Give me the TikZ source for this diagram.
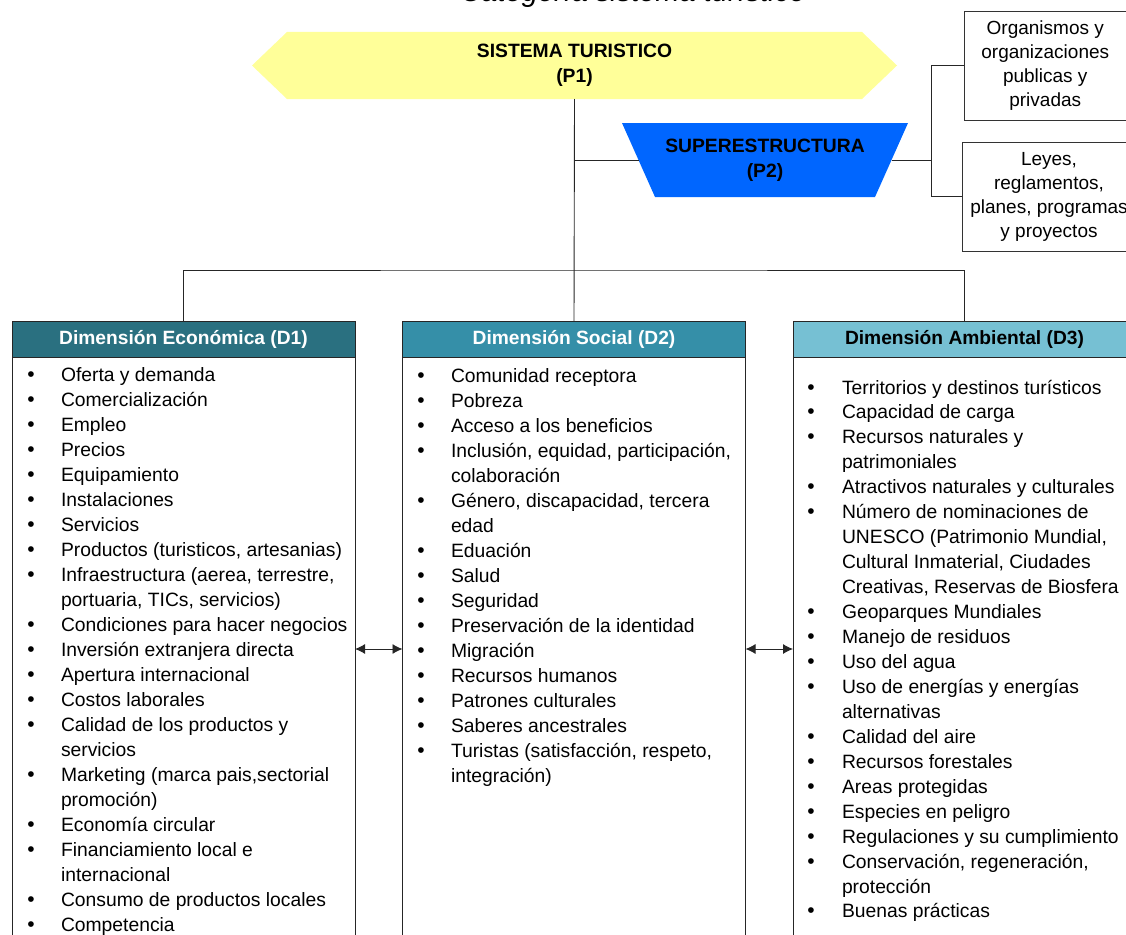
\documentclass[tikz,border=0pt]{standalone}
\usepackage{fontspec}
\setmainfont{Liberation Sans}
\usetikzlibrary{arrows.meta,calc}
\definecolor{yel}{HTML}{FFFF99}
\definecolor{blu}{HTML}{0066FF}
\definecolor{hA}{HTML}{2A7080}
\definecolor{hB}{HTML}{358FA8}
\definecolor{hC}{HTML}{76C0D3}
\begin{document}
\begin{tikzpicture}[x=1pt,y=-1pt,line width=0.9pt,
  every node/.style={inner sep=0pt,outer sep=0pt},
  txt/.style={font=\fontsize{19.3}{24}\selectfont,anchor=base west},
  bul/.style={font=\fontsize{21}{24}\selectfont,anchor=base},
  hdr/.style={draw=black!85,minimum width=343pt,minimum height=36pt,font=\bfseries\fontsize{19.2}{24}\selectfont},
  body/.style={draw=black!85,minimum width=343pt,minimum height=600pt,anchor=north},
  sidebox/.style={draw=black!80,align=center,font=\fontsize{19}{24}\selectfont},
  conn/.style={draw=black!85},
  tip/.style={{Latex[length=10pt,width=10pt]}-{Latex[length=10pt,width=10pt]}}
]
\useasboundingbox (0,0) rectangle (1126,934);

% title
\node[anchor=base,font=\itshape\fontsize{29}{29}\selectfont] (title) at (633,1.5) {Categoría sistema turístico};

% P1
\node[minimum width=575pt,minimum height=67pt] (p1) at (574.5,65.5) {};
\fill[yel] ($(p1.west)+(-35,0)$) -- (p1.north west) -- (p1.north east) -- ($(p1.east)+(35,0)$) -- (p1.south east) -- (p1.south west) -- cycle;
\node[align=center,font=\bfseries\fontsize{19.3}{25}\selectfont] (p1t) at (p1) {SISTEMA TURISTICO\\(P1)};

% P2
\node[minimum width=286pt,minimum height=74pt] (p2) at (765,160) {};
\fill[blu] (p2.north west) -- (p2.north east) -- ($(p2.south east)+(-33,0)$) -- ($(p2.south west)+(33,0)$) -- cycle;
\node[align=center,font=\bfseries\fontsize{19.3}{25}\selectfont] (p2t) at (p2) {SUPERESTRUCTURA\\(P2)};

% side boxes
\node[sidebox,minimum width=162.5pt,minimum height=109pt] (o1) at (1045.25,65.5) {Organismos y\\organizaciones\\publicas y\\privadas};
\node[sidebox,minimum width=174pt,minimum height=109pt] (o2) at (1049,196.5) {Leyes,\\reglamentos,\\planes, programas\\y proyectos};

% dimension boxes
\node[body] (d1body) at (183.5,357) {};
\node[body] (d2body) at (574,357) {};
\node[body] (d3body) at (964.5,357) {};
\node[hdr,fill=hA,text=white] (d1) at (183.5,339) {Dimensión Económica (D1)};
\node[hdr,fill=hB,text=white] (d2) at (574,339) {Dimensión Social (D2)};
\node[hdr,fill=hC,text=black] (d3) at (964.5,339) {Dimensión Ambiental (D3)};

% connectors
\draw[conn] (p1.south) -- (d2.north);
\coordinate (j) at (574,270);
\draw[conn] (d1.north) |- (j) -| (d3.north);
\draw[conn] ($(p2.west)+(16.5,0)$) -- (p1.south |- p2.west);
\coordinate (k) at (931,160);
\draw[conn] ($(p2.east)+(-16.5,0)$) -- (k);
\draw[conn] (o1.west) -| (k) |- (o2.west);
\coordinate (ay) at (0,649);
\draw[conn,tip] (d1body.east |- ay) -- (d2body.west |- ay);
\draw[conn,tip] (d2body.east |- ay) -- (d3body.west |- ay);

% D1 list
\foreach \b/\t [count=\i] in {
 1/Oferta y demanda, 1/Comercialización, 1/Empleo, 1/Precios, 1/Equipamiento,
 1/Instalaciones, 1/Servicios, {1/Productos (turisticos, artesanias)},
 {1/Infraestructura (aerea, terrestre,}, {0/portuaria, TICs, servicios)},
 1/Condiciones para hacer negocios, 1/Inversión extranjera directa,
 1/Apertura internacional, 1/Costos laborales, 1/Calidad de los productos y,
 0/servicios, {1/Marketing (marca pais,sectorial}, 0/promoción),
 1/Economía circular, 1/Financiamiento local e, 0/internacional,
 1/Consumo de productos locales, 1/Competencia} {
  \pgfmathsetmacro\yy{381+25*(\i-1)}
  \node[txt] (d1t\i) at (61,\yy) {\t};
  \ifnum\b=1 \node[bul] (d1b\i) at (31,\yy) {•};\fi
}

% D2 list
\foreach \b/\t [count=\i] in {
 1/Comunidad receptora, 1/Pobreza, 1/Acceso a los beneficios,
 {1/Inclusión, equidad, participación,}, 0/colaboración,
 {1/Género, discapacidad, tercera}, 0/edad,
 1/Eduación, 1/Salud, 1/Seguridad, 1/Preservación de la identidad,
 1/Migración, 1/Recursos humanos, 1/Patrones culturales,
 1/Saberes ancestrales, {1/Turistas (satisfacción, respeto,}, 0/integración)} {
  \pgfmathsetmacro\yy{382+25*(\i-1)}
  \node[txt] (d2t\i) at (451,\yy) {\t};
  \ifnum\b=1 \node[bul] (d2b\i) at (421,\yy) {•};\fi
}

% D3 list
\foreach \b/\t [count=\i] in {
 1/Territorios y destinos turísticos, 1/Capacidad de carga,
 1/Recursos naturales y, 0/patrimoniales, 1/Atractivos naturales y culturales,
 1/Número de nominaciones de, {0/UNESCO (Patrimonio Mundial,},
 {0/Cultural Inmaterial, Ciudades}, {0/Creativas, Reservas de Biosfera},
 1/Geoparques Mundiales, 1/Manejo de residuos, 1/Uso del agua,
 1/Uso de energías y energías, 0/alternativas, 1/Calidad del aire,
 1/Recursos forestales, 1/Areas protegidas, 1/Especies en peligro,
 1/Regulaciones y su cumplimiento, {1/Conservación, regeneración,},
 0/protección, 1/Buenas prácticas} {
  \pgfmathsetmacro\yy{394+24.95*(\i-1)}
  \node[txt] (d3t\i) at (842,\yy) {\t};
  \ifnum\b=1 \node[bul] (d3b\i) at (811,\yy) {•};\fi
}
\end{tikzpicture}
\end{document}
